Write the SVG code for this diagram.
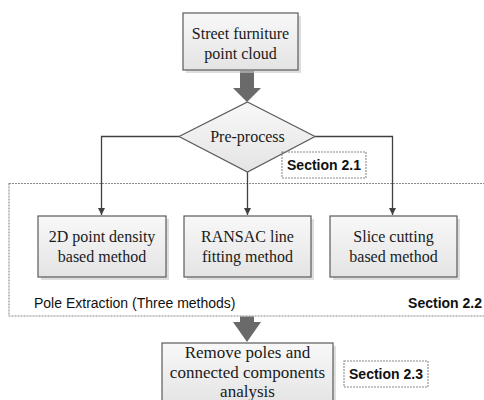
<svg xmlns="http://www.w3.org/2000/svg" width="484" height="400" viewBox="0 0 484 400">
<style>
.box{fill:url(#g);stroke:#5a5a5a;stroke-width:1.2}
.sh{fill:#c8c8c8;opacity:0.6}
.t{font-family:"Liberation Serif","Times New Roman",serif;font-size:16px;fill:#1a1a1a;text-anchor:middle}
.t2{font-size:17px}
.s{font-family:"Liberation Sans",Arial,sans-serif;font-size:14px;fill:#111}
.b{font-weight:bold}
.ln{fill:none;stroke:#404040;stroke-width:1.3}
.dash{fill:none;stroke:#8a8a8a;stroke-width:1.1;stroke-dasharray:2 1}
.big{fill:#6a6a6a}
</style>
<defs>
<linearGradient id="g" x1="0" y1="0" x2="0" y2="1">
<stop offset="0" stop-color="#f8f8f8"/>
<stop offset="1" stop-color="#e4e4e4"/>
</linearGradient>
<marker id="ar" viewBox="0 0 10 10" refX="10" refY="5" markerWidth="7" markerHeight="7" orient="auto" markerUnits="userSpaceOnUse">
<path d="M0,0 L10,5 L0,10 z" fill="#404040"/>
</marker>
</defs>
<rect fill="#fff" width="484" height="400"/>
<g id="pole-extraction-group">
<rect class="dash" x="9" y="183.5" width="485" height="132.5"/>
<text class="s" x="34" y="308">Pole Extraction (Three methods)</text>
<text class="s b" x="482" y="308" text-anchor="end">Section 2.2</text>
</g>
<g id="connectors">
<polyline class="ln" points="179,136.5 101.5,136.5 101.5,215" marker-end="url(#ar)"/>
<polyline class="ln" points="247.5,172 247.5,215" marker-end="url(#ar)"/>
<polyline class="ln" points="315,136.5 392.5,136.5 392.5,215" marker-end="url(#ar)"/>
<path class="big" d="M240,71 H254 V88 H261 L247,102 L233,88 H240 Z"/>
<path class="big" d="M240,316.5 H254 V322 H261 L247,342 L233,322 H240 Z"/>
</g>
<g id="node-input">
<rect class="sh" x="186" y="16" width="115" height="57"/>
<rect class="box" x="183" y="13" width="115" height="57"/>
<text class="t" x="240.5" y="39">Street furniture</text>
<text class="t" x="240.5" y="59">point cloud</text>
</g>
<g id="node-preprocess">
<polygon points="247.5,102 315,136.5 247.5,172 179,136.5" fill="url(#g)" stroke="#5a5a5a" stroke-width="1.2"/>
<text class="t" x="247.5" y="142">Pre-process</text>
</g>
<g id="label-section21">
<rect class="dash" x="282" y="152" width="84" height="26"/>
<text class="s b" x="324" y="170" text-anchor="middle">Section 2.1</text>
</g>
<g id="node-density">
<rect class="sh" x="41" y="219" width="128" height="61"/>
<rect class="box" x="38" y="216" width="128" height="61"/>
<text class="t" x="102" y="242">2D point density</text>
<text class="t" x="102" y="262">based method</text>
</g>
<g id="node-ransac">
<rect class="sh" x="187" y="219" width="127" height="61"/>
<rect class="box" x="184" y="216" width="127" height="61"/>
<text class="t" x="247.5" y="242">RANSAC line</text>
<text class="t" x="247.5" y="262">fitting method</text>
</g>
<g id="node-slice">
<rect class="sh" x="333" y="219" width="127" height="61"/>
<rect class="box" x="330" y="216" width="127" height="61"/>
<text class="t" x="393.5" y="242">Slice cutting</text>
<text class="t" x="393.5" y="262">based method</text>
</g>
<g id="node-remove">
<rect class="sh" x="165" y="346" width="171" height="60"/>
<rect class="box" x="162" y="343" width="171" height="62"/>
<text class="t t2" x="247.5" y="358">Remove poles and</text>
<text class="t t2" x="247.5" y="378">connected components</text>
<text class="t t2" x="247.5" y="397">analysis</text>
</g>
<g id="label-section23">
<rect class="dash" x="344" y="361" width="84" height="26"/>
<text class="s b" x="386" y="379" text-anchor="middle">Section 2.3</text>
</g>
</svg>
